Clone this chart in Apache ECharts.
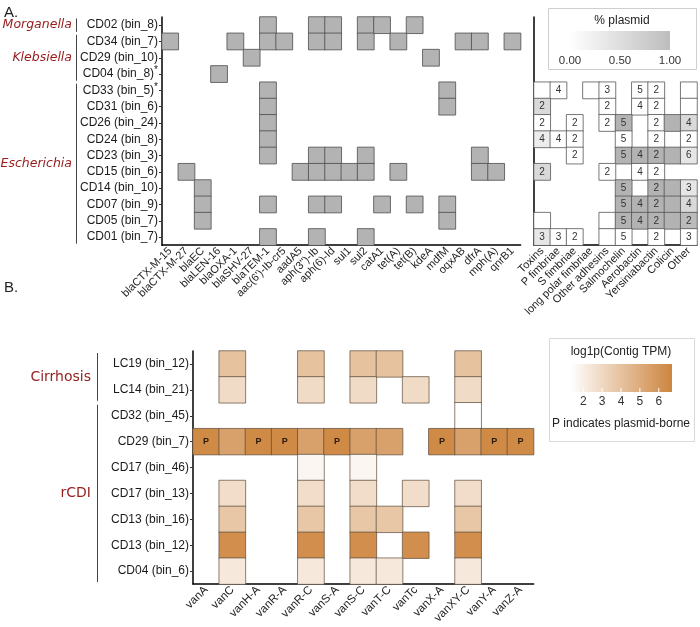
<!DOCTYPE html>
<html>
<head>
<meta charset="utf-8">
<script src="https://cdn.jsdelivr.net/npm/echarts@6/dist/echarts.min.js"></script>
<style>
  html, body { margin: 0; padding: 0; background: #fff; }
  #chart { width: 700px; height: 627px; }
</style>
</head>
<body>
<div id="chart"></div>
<script>
// ---- panel A : AMR genes ----
var amrRows = ['CD02 (bin_8)', 'CD34 (bin_7)', 'CD29 (bin_10)', 'CD04 (bin_8)*', 'CD33 (bin_5)*',
  'CD31 (bin_6)', 'CD26 (bin_24)', 'CD24 (bin_8)', 'CD23 (bin_3)', 'CD15 (bin_6)',
  'CD14 (bin_10)', 'CD07 (bin_9)', 'CD05 (bin_7)', 'CD01 (bin_7)'];
var amrGenes = ['blaCTX-M-15', 'blaCTX-M-27', 'blaEC', 'blaLEN-16', 'blaOXA-1', 'blaSHV-27', 'blaTEM-1',
  "aac(6')-Ib-cr5", 'aadA5', "aph(3'')-Ib", 'aph(6)-Id', 'sul1', 'sul2', 'catA1', 'tet(A)', 'tet(B)',
  'kdeA', 'mdfM', 'oqxAB', 'dfrA', 'mph(A)', 'qnrB1'];
// genes found in each genome (same order as amrRows)
var amrHits = [
  ['blaTEM-1', "aph(3'')-Ib", 'aph(6)-Id', 'sul2', 'catA1', 'tet(B)'],
  ['blaCTX-M-15', 'blaOXA-1', 'blaTEM-1', "aac(6')-Ib-cr5", "aph(3'')-Ib", 'aph(6)-Id', 'sul2', 'tet(A)', 'oqxAB', 'dfrA', 'qnrB1'],
  ['blaSHV-27', 'kdeA'],
  ['blaLEN-16'],
  ['blaTEM-1', 'mdfM'],
  ['blaTEM-1', 'mdfM'],
  ['blaTEM-1'],
  ['blaTEM-1'],
  ['blaTEM-1', "aph(3'')-Ib", 'aph(6)-Id', 'sul2', 'dfrA'],
  ['blaCTX-M-27', 'aadA5', "aph(3'')-Ib", 'aph(6)-Id', 'sul1', 'sul2', 'tet(A)', 'dfrA', 'mph(A)'],
  ['blaEC'],
  ['blaEC', 'blaTEM-1', "aph(3'')-Ib", 'aph(6)-Id', 'catA1', 'tet(B)', 'mdfM'],
  ['blaEC', 'mdfM'],
  ['blaTEM-1', "aph(3'')-Ib", 'sul2']
];

// ---- panel A : virulence factors (rows CD33 .. CD01) ----
var vfCats = ['Toxins', 'P fimbriae', 'S fimbriae', 'long polar fimbriae', 'Other adhesins',
  'Salmochelin', 'Aerobactin', 'Yersiniabactin', 'Colicin', 'Other'];
var vfFirstRow = 4;
var vfCounts = [
  [1, 4, null, 1, 3, null, 5, 2, null, 1],
  [2, null, null, null, 2, null, 4, 2, null, 1],
  [2, null, 2, null, 2, 5, null, 2, 1, 4],
  [4, 4, 2, null, null, 5, null, 2, null, 2],
  [null, null, 2, null, null, 5, 4, 2, 1, 6],
  [2, null, null, null, 2, null, 4, 2, null, null],
  [null, null, null, null, null, 5, null, 2, 1, 3],
  [null, null, null, null, null, 5, 4, 2, 1, 4],
  [1, null, null, null, 1, 5, 4, 2, 1, 2],
  [3, 3, 2, null, 1, 5, null, 2, null, 3]
];
var vfPlasmid = [
  [0, 0, 0, 0, 0, 0, 0, 0, 0, 0],
  [0.5, 0, 0, 0, 0, 0, 0, 0, 0, 0],
  [0, 0, 0, 0, 0, 1, 0, 0, 1, 0.5],
  [0.25, 0, 0, 0, 0, 0, 0, 0, 0, 0],
  [0, 0, 0, 0, 0, 1, 1, 1, 1, 0.33],
  [0.5, 0, 0, 0, 0, 0, 0, 0, 0, 0],
  [0, 0, 0, 0, 0, 1, 0, 1, 1, 0.33],
  [0, 0, 0, 0, 0, 1, 1, 1, 1, 0.5],
  [0, 0, 0, 0, 0, 1, 1, 1, 1, 0.9],
  [0.33, 0, 0, 0, 0, 0, 0, 0, 0, 0]
];

// ---- panel B : van genes, log1p(Contig TPM) ----
var vanRows = ['LC19 (bin_12)', 'LC14 (bin_21)', 'CD32 (bin_45)', 'CD29 (bin_7)', 'CD17 (bin_46)',
  'CD17 (bin_13)', 'CD13 (bin_16)', 'CD13 (bin_12)', 'CD04 (bin_6)'];
var vanGenes = ['vanA', 'vanC', 'vanH-A', 'vanR-A', 'vanR-C', 'vanS-A', 'vanS-C', 'vanT-C', 'vanTc',
  'vanX-A', 'vanXY-C', 'vanY-A', 'vanZ-A'];
var vanTpm = [
  [null, 4.0, null, null, 4.0, null, 4.0, 4.0, null, null, 4.0, null, null],
  [null, 2.9, null, null, 2.9, null, 2.9, null, 2.9, null, 2.9, null, null],
  [null, null, null, null, null, null, null, null, null, null, 1.3, null, null],
  [6.5, 5.5, 6.5, 6.5, 5.5, 6.5, 5.5, 5.5, null, 6.5, 5.5, 6.5, 6.5],
  [null, null, null, null, 1.7, null, 1.7, null, null, null, null, null, null],
  [null, 2.8, null, null, 2.8, null, 2.8, null, 2.8, null, 2.8, null, null],
  [null, 3.8, null, null, 3.8, null, 3.8, 3.8, null, null, 3.8, null, null],
  [null, 6.3, null, null, 6.3, null, 6.3, null, 6.3, null, 6.3, null, null],
  [null, 2.3, null, null, 2.3, null, 2.3, 2.3, null, null, 2.3, null, null]
];
var plasmidBorneCD29 = ['vanA', 'vanH-A', 'vanR-A', 'vanS-A', 'vanX-A', 'vanY-A', 'vanZ-A'];

var gradTicksA = [0, 0.5, 1];
var gradTicksB = [2, 3, 4, 5, 6];

// build heatmap data
var amrData = [];
amrHits.forEach(function (genes, r) {
  genes.forEach(function (g) { amrData.push([amrGenes.indexOf(g), r, 1]); });
});
var vfData = [];
vfCounts.forEach(function (row, i) {
  row.forEach(function (v, j) {
    if (v != null) vfData.push([j, i + vfFirstRow, v, vfPlasmid[i][j]]);
  });
});
var vanData = [];
vanTpm.forEach(function (row, i) {
  row.forEach(function (v, j) {
    if (v != null) {
      var p = (vanRows[i] === 'CD29 (bin_7)' && plasmidBorneCD29.indexOf(vanGenes[j]) >= 0) ? 1 : 0;
      vanData.push([j, i, v, p]);
    }
  });
});

var dom = document.getElementById('chart');
var myChart = echarts.init(dom, null, { renderer: 'canvas' });

var FONT = '"Liberation Sans", Arial, sans-serif';
var GFONT = '"DejaVu Sans", Verdana, sans-serif';
var darkRed = '#961c1c';

// layout (px)
var A = { left: 162, top: 17, cell: 16.3 };
var A2left = 534;
var B = { left: 193, top: 351, cw: 26.2, ch: 25.9 };

function xAx(grid, data, fs) {
  return {
    type: 'category', gridIndex: grid, data: data, position: 'bottom',
    axisLine: { lineStyle: { color: '#000', width: 1.5 } },
    axisTick: { alignWithLabel: true, length: 3, lineStyle: { color: '#333' } },
    axisLabel: { interval: 0, rotate: 45, margin: 4, fontSize: fs, color: '#222', fontFamily: FONT },
    splitLine: { show: false }
  };
}
function yAx(grid, data, showLabel) {
  return {
    type: 'category', gridIndex: grid, data: data, inverse: true,
    axisLine: { lineStyle: { color: '#000', width: 1.5 } },
    axisTick: { show: showLabel, alignWithLabel: true, length: 3, lineStyle: { color: '#333' } },
    axisLabel: {
      show: showLabel, interval: 0, margin: 4, fontSize: 12, color: '#1a1a1a', fontFamily: FONT,
      formatter: function (v) { return v.indexOf('*') >= 0 ? v.replace('*', '{s|*}') : v; },
      rich: { s: { fontSize: 10, padding: [0, 0, 7, 0], color: '#1a1a1a', fontFamily: FONT } }
    },
    splitLine: { show: false }
  };
}

// group labels and brackets
var graphics = [];
function txt(x, y, s, font, fill, align) {
  graphics.push({ type: 'text', x: x, y: y, silent: true,
    style: { text: s, font: font, fill: fill, align: align || 'left', verticalAlign: 'middle',
      textAlign: align || 'left', textVerticalAlign: 'middle' } });
}
function vline(x, y1, y2, color, w) {
  graphics.push({ type: 'line', silent: true, shape: { x1: x, y1: y1, x2: x, y2: y2 },
    style: { stroke: color || '#333', lineWidth: w || 1 } });
}
txt(4, 13, 'A.', '15px ' + FONT, '#222');
txt(4, 288, 'B.', '15px ' + FONT, '#222');

[['Morganella', 0, 0], ['Klebsiella', 1, 3], ['Escherichia', 4, 13]].forEach(function (g) {
  var y1 = A.top + A.cell * g[1], y2 = A.top + A.cell * (g[2] + 1);
  txt(72, (y1 + y2) / 2, g[0], 'italic 12.5px ' + GFONT, darkRed, 'right');
  vline(76.5, y1 + 1.5, y2 - 1.5, '#444', 1);
});
[['Cirrhosis', 0, 1], ['rCDI', 2, 8]].forEach(function (g) {
  var y1 = B.top + B.ch * g[1], y2 = B.top + B.ch * (g[2] + 1);
  txt(91, (y1 + y2) / 2, g[0], '14px ' + GFONT, darkRed, 'right');
  vline(97.5, y1 + 2, y2 - 2, '#444', 1);
});

// legend A (% plasmid)
graphics.push({ type: 'rect', silent: true, shape: { x: 548.5, y: 8.5, width: 148, height: 61 },
  style: { fill: '#fff', stroke: '#cfcfcf', lineWidth: 1 } });
txt(622, 21, '% plasmid', '12px ' + FONT, '#222', 'center');
graphics.push({ type: 'rect', silent: true, shape: { x: 570, y: 31, width: 100, height: 19 },
  style: { fill: new echarts.graphic.LinearGradient(0, 0, 1, 0, [
    { offset: 0, color: '#ffffff' }, { offset: 1, color: '#bdbdbd' }]) } });
gradTicksA.forEach(function (t) {
  txt(570 + 100 * t, 61, t.toFixed(2), '11.5px ' + FONT, '#333', 'center');
});

// legend B (log1p TPM)
var bMin = 1.3, bMax = 6.7;
graphics.push({ type: 'rect', silent: true, shape: { x: 549.5, y: 338.5, width: 145, height: 103 },
  style: { fill: '#fff', stroke: '#d9d9d9', lineWidth: 1 } });
txt(621, 352, 'log1p(Contig TPM)', '12px ' + FONT, '#222', 'center');
graphics.push({ type: 'rect', silent: true, shape: { x: 570, y: 364, width: 102, height: 28 },
  style: { fill: new echarts.graphic.LinearGradient(0, 0, 1, 0, [
    { offset: 0, color: '#ffffff' }, { offset: 1, color: '#cd853f' }]) } });
gradTicksB.forEach(function (t) {
  var x = 570 + 102 * (t - bMin) / (bMax - bMin);
  graphics.push({ type: 'line', silent: true, shape: { x1: x, y1: 388, x2: x, y2: 392 },
    style: { stroke: '#fff', lineWidth: 1 } });
  txt(x, 402, String(t), '12px ' + FONT, '#333', 'center');
});
txt(621, 424, 'P indicates plasmid-borne', '12px ' + FONT, '#222', 'center');

var option = {
  animation: false,
  backgroundColor: '#fff',
  textStyle: { fontFamily: FONT },
  grid: [
    { left: A.left, top: A.top, width: A.cell * amrGenes.length, height: A.cell * amrRows.length },
    { left: A2left, top: A.top, width: A.cell * vfCats.length, height: A.cell * amrRows.length },
    { left: B.left, top: B.top, width: B.cw * vanGenes.length, height: B.ch * vanRows.length }
  ],
  xAxis: [xAx(0, amrGenes, 11), xAx(1, vfCats, 11), xAx(2, vanGenes, 11.5)],
  yAxis: [yAx(0, amrRows, true), yAx(1, amrRows, false), yAx(2, vanRows, true)],
  visualMap: [
    { show: false, seriesIndex: 0, dimension: 2, min: 0, max: 2, inRange: { color: ['#b3b3b3', '#b3b3b3'] } },
    { show: false, seriesIndex: 1, dimension: 3, min: 0, max: 1, inRange: { color: ['#ffffff', '#b3b3b3'] } },
    { show: false, seriesIndex: 2, dimension: 2, min: bMin, max: bMax, inRange: { color: ['#ffffff', '#cd853f'] } }
  ],
  series: [
    {
      type: 'heatmap', xAxisIndex: 0, yAxisIndex: 0, data: amrData,
      itemStyle: { borderColor: '#4d4d4d', borderWidth: 0.8 },
      emphasis: { disabled: true }
    },
    {
      type: 'heatmap', xAxisIndex: 1, yAxisIndex: 1, data: vfData,
      itemStyle: { borderColor: '#555', borderWidth: 0.8 },
      label: {
        show: true, fontSize: 10, color: '#333', fontFamily: FONT,
        formatter: function (p) { return p.value[2] > 1 ? String(p.value[2]) : ''; }
      },
      emphasis: { disabled: true }
    },
    {
      type: 'heatmap', xAxisIndex: 2, yAxisIndex: 2, data: vanData,
      itemStyle: { borderColor: '#5a4a3a', borderWidth: 0.7 },
      label: {
        show: true, fontSize: 9, fontWeight: 'bold', color: '#2b1a0a', fontFamily: FONT,
        formatter: function (p) { return p.value[3] ? 'P' : ''; }
      },
      emphasis: { disabled: true }
    }
  ],
  graphic: graphics
};

if (option && typeof option === 'object') {
  myChart.setOption(option, true);
}
</script>
</body>
</html>
